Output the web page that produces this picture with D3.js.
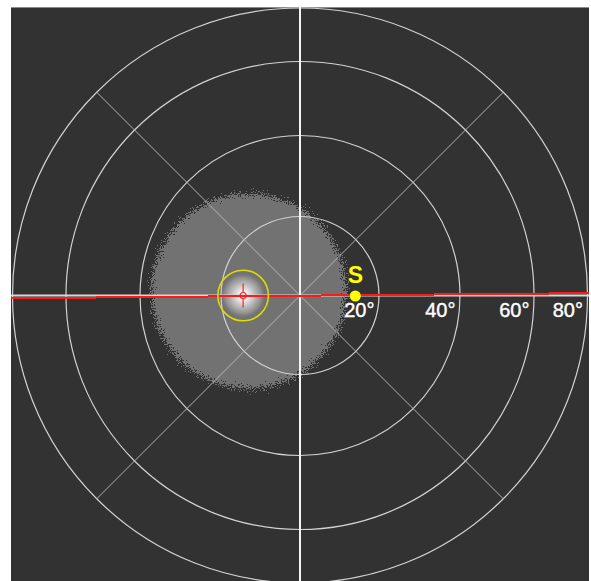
<!DOCTYPE html>
<html><head><meta charset="utf-8">
<script src="https://cdn.jsdelivr.net/npm/d3@7"></script>
<style>html,body{margin:0;padding:0;background:#fff;}svg{display:block;}</style>
</head><body>
<script>
// ---- data ----
const zenithTicks = [20, 40, 60, 80];
const tickLabels = ["20°", "40°", "60°", "80°"];
const spokeAzimuths = [45, 135, 225, 315];
const sun = { label: "S", zenith: 14, azimuth: 90 };
const brightSpot = { zenith: 14.4, azimuth: 270, haloDeg: 6.4 };
const glow = { zenith: 13, azimuth: 275, radiusDeg: 27.5 };
const horizonTilt = [0.7, -0.6]; // offsets (deg) at left / right ends

// ---- layout ----
const W = 591, H = 581, cx = 300, cy = 295.5;
const svg = d3.select("body").append("svg").attr("width", W).attr("height", H);
const r = d3.scaleLinear().domain([0, 20, 40, 60, 80]).range([0, 79, 160, 234, 287.5]);
const pos = (zen, az) => [cx + r(zen) * Math.sin(az * Math.PI / 180), cy - r(zen) * Math.cos(az * Math.PI / 180)];

const defs = svg.append("defs");
defs.append("clipPath").attr("id", "panel").append("rect").attr("x", 11).attr("y", 7).attr("width", 578).attr("height", 574);

const gg = defs.append("radialGradient").attr("id", "glowGrad");
gg.append("stop").attr("offset", "0%").attr("stop-color", "#fff").attr("stop-opacity", 1);
gg.append("stop").attr("offset", "78%").attr("stop-color", "#fff").attr("stop-opacity", 1);
gg.append("stop").attr("offset", "100%").attr("stop-color", "#fff").attr("stop-opacity", 0);
const f = defs.append("filter").attr("id", "dither").attr("x", "-20%").attr("y", "-20%").attr("width", "140%").attr("height", "140%");
f.append("feTurbulence").attr("type", "fractalNoise").attr("baseFrequency", 0.7).attr("numOctaves", 2).attr("seed", 5).attr("result", "noise");
f.append("feColorMatrix").attr("in", "noise").attr("type", "matrix")
  .attr("values", "0 0 0 0 0  0 0 0 0 0  0 0 0 0 0  1 0 0 0 0").attr("result", "na");
f.append("feComposite").attr("in", "SourceGraphic").attr("in2", "na").attr("operator", "arithmetic")
  .attr("k1", 0).attr("k2", 1).attr("k3", 0.9).attr("k4", -0.45).attr("result", "mix");
const ct = f.append("feComponentTransfer").attr("in", "mix").attr("result", "mask");
ct.append("feFuncA").attr("type", "discrete").attr("tableValues", "0 1");
f.append("feFlood").attr("flood-color", "#727272").attr("result", "col");
f.append("feComposite").attr("in", "col").attr("in2", "mask").attr("operator", "in");

const sg = defs.append("radialGradient").attr("id", "spotGrad");
sg.append("stop").attr("offset", "0%").attr("stop-color", "#ffffff").attr("stop-opacity", 1);
sg.append("stop").attr("offset", "20%").attr("stop-color", "#eeeeee").attr("stop-opacity", 1);
sg.append("stop").attr("offset", "55%").attr("stop-color", "#b4b4b4").attr("stop-opacity", 1);
sg.append("stop").attr("offset", "80%").attr("stop-color", "#8c8c8c").attr("stop-opacity", 1);
sg.append("stop").attr("offset", "100%").attr("stop-color", "#727272").attr("stop-opacity", 0);

// panel
svg.append("rect").attr("x", 11).attr("y", 7).attr("width", 578).attr("height", 574).attr("fill", "#323232");
svg.append("line").attr("x1", 11).attr("x2", 589).attr("y1", 7.5).attr("y2", 7.5).attr("stroke", "#8a8a8a").attr("stroke-width", 1);

const g = svg.append("g").attr("clip-path", "url(#panel)");

// glow
const gp = pos(glow.zenith, glow.azimuth);
g.append("circle").attr("cx", gp[0]).attr("cy", gp[1]).attr("r", r(glow.radiusDeg))
  .attr("fill", "url(#glowGrad)").attr("filter", "url(#dither)");
const bp = pos(brightSpot.zenith, brightSpot.azimuth);
g.append("circle").attr("cx", bp[0]).attr("cy", bp[1]).attr("r", 23).attr("fill", "url(#spotGrad)");

// rings
g.selectAll("circle.ring").data(zenithTicks).join("circle").attr("class", "ring")
  .attr("cx", cx).attr("cy", cy).attr("r", d => r(d))
  .attr("fill", "none").attr("stroke", "#d2d2d2").attr("stroke-width", 1.2);

// spokes
g.selectAll("line.spoke").data(spokeAzimuths).join("line").attr("class", "spoke")
  .attr("x1", cx).attr("y1", cy)
  .attr("x2", d => pos(80, d)[0]).attr("y2", d => pos(80, d)[1])
  .attr("stroke", "#b4b4b4").attr("stroke-width", 1);

// main axes
g.append("line").attr("x1", 11).attr("x2", 589).attr("y1", cy).attr("y2", cy).attr("stroke", "#d8d8d8").attr("stroke-width", 2);
g.append("line").attr("x1", cx).attr("x2", cx).attr("y1", 7).attr("y2", 581).attr("stroke", "#f4f4f4").attr("stroke-width", 2);

// horizon (red)
const hL = pos(80, 270), hR = pos(80, 90);
g.append("line")
  .attr("x1", hL[0] - 2).attr("y1", cy + r(horizonTilt[0]))
  .attr("x2", hR[0] + 3).attr("y2", cy + r(horizonTilt[1]))
  .attr("stroke", "#ff1a1a").attr("stroke-width", 2).attr("shape-rendering", "crispEdges");

// halo + crosshair
g.append("circle").attr("cx", bp[0]).attr("cy", bp[1]).attr("r", r(brightSpot.haloDeg))
  .attr("fill", "none").attr("stroke", "#dede00").attr("stroke-width", 1.5);
g.append("circle").attr("cx", bp[0]).attr("cy", bp[1]).attr("r", 3)
  .attr("fill", "none").attr("stroke", "#ff2020").attr("stroke-width", 1.2);
g.append("line").attr("x1", bp[0]).attr("x2", bp[0]).attr("y1", bp[1] - 12).attr("y2", bp[1] - 3).attr("stroke", "#ff2020").attr("stroke-width", 1.2);
g.append("line").attr("x1", bp[0]).attr("x2", bp[0]).attr("y1", bp[1] + 3).attr("y2", bp[1] + 12).attr("stroke", "#ff2020").attr("stroke-width", 1.2);

// sun
const sp = pos(sun.zenith, sun.azimuth);
g.append("circle").attr("cx", sp[0]).attr("cy", sp[1] + 0.5).attr("r", 5.5).attr("fill", "#ffff00");
g.append("text").attr("x", sp[0]).attr("y", sp[1] - 13).attr("text-anchor", "middle")
  .attr("font-family", "'Liberation Sans', Arial, sans-serif").attr("font-weight", "bold").attr("font-size", 23)
  .attr("fill", "#ffff00").text(sun.label);

// tick labels
g.selectAll("text.tick").data(zenithTicks).join("text").attr("class", "tick")
  .attr("x", d => cx + r(d) - 4.5).attr("y", cy + 21.5).attr("text-anchor", "end")
  .attr("font-family", "'Liberation Sans', Arial, sans-serif").attr("font-size", 20)
  .attr("fill", "#ffffff").attr("stroke", "#ffffff").attr("stroke-width", 0.4).text((d, i) => tickLabels[i]);
</script>
</body></html>
